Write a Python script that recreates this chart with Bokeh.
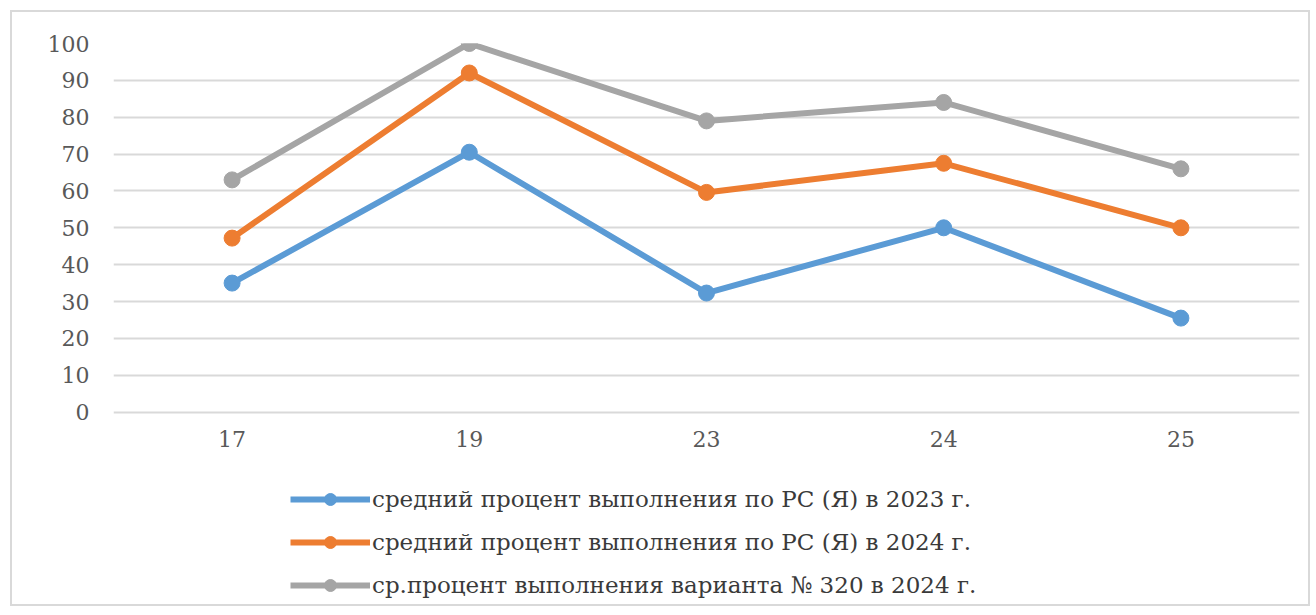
from bokeh.plotting import figure
from bokeh.models import Legend, LegendItem, FactorRange, Range1d, FixedTicker
from bokeh.embed import file_html
from bokeh.resources import INLINE

categories = ["17", "19", "23", "24", "25"]
series_2023 = [35, 70.5, 32.3, 50, 25.5]
series_2024 = [47.2, 92, 59.6, 67.5, 50]
series_320 = [63, 100, 79, 84, 66]
y_ticks = [0, 10, 20, 30, 40, 50, 60, 70, 80, 90, 100]
series_labels = [
    "средний процент выполнения по РС (Я) в 2023 г.",
    "средний процент выполнения по РС (Я) в 2024 г.",
    "ср.процент выполнения варианта № 320 в 2024 г.",
]
colors = ["#5B9BD5", "#ED7D31", "#A5A5A5"]

FONT = "DejaVu Serif"

# the frame extends below zero to host the category labels and the legend
p = figure(
    x_range=FactorRange(*categories), y_range=Range1d(-52.2, 100),
    width=1300, height=596, output_backend="svg", toolbar_location=None,
    min_border_left=101, min_border_right=13, min_border_top=31, min_border_bottom=4,
)
p.margin = (10, 0, 0, 10)
p.styles = {"border": "2px solid #d9d9d9"}
p.outline_line_color = None
p.background_fill_color = "white"

p.xgrid.grid_line_color = None
p.ygrid.grid_line_color = "#d9d9d9"
p.ygrid.grid_line_width = 2
p.yaxis.ticker = FixedTicker(ticks=y_ticks)
p.xaxis.fixed_location = 0

for ax in (p.xaxis[0], p.yaxis[0]):
    ax.axis_line_color = None
    ax.major_tick_line_color = None
    ax.minor_tick_line_color = None
    ax.major_label_text_font = FONT
    ax.major_label_text_font_size = "22px"
    ax.major_label_text_color = "#595959"
p.yaxis.major_label_standoff = 18
p.xaxis.major_label_standoff = 13

items = []
for vals, lab, col in zip([series_2023, series_2024, series_320], series_labels, colors):
    l = p.line(categories, vals, line_color=col, line_width=6)
    c = p.scatter(categories, vals, size=16, fill_color=col, line_color=col)
    items.append(LegendItem(label=lab, renderers=[l, c]))

legend = Legend(
    items=items, location=(177, 4), orientation="vertical",
    glyph_width=80, glyph_height=30, label_height=30, spacing=13,
    label_standoff=2, padding=0, margin=0,
    border_line_color=None, background_fill_alpha=0,
    label_text_font=FONT, label_text_font_size="23px", label_text_color="#3a3a3a",
)
p.add_layout(legend, "center")

open("out.html", "w").write(file_html(p, INLINE))
